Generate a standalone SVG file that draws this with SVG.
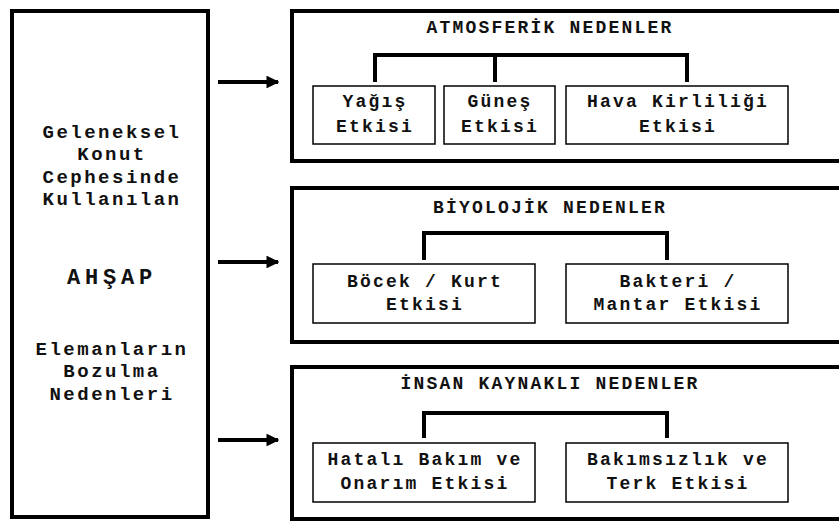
<svg xmlns="http://www.w3.org/2000/svg" width="839" height="521" viewBox="0 0 839 521">
<defs>
<style>
text{font-family:"Liberation Mono","DejaVu Sans Mono",monospace;font-weight:bold;fill:#111;text-anchor:middle}
.t{font-size:18px;letter-spacing:2.2px}
.l{font-size:19px;letter-spacing:2.5px}
.big{font-size:22px;letter-spacing:4.8px}
.outer{fill:#fff;stroke:#000;stroke-width:4}
.sub{fill:#fff;stroke:#000;stroke-width:1.5}
.br{fill:none;stroke:#000;stroke-width:4}
.ar{stroke:#000;stroke-width:4}
</style>
<marker id="ah" viewBox="0 0 10 10" refX="9" refY="5" markerWidth="3.2" markerHeight="3.2" orient="auto" markerUnits="strokeWidth">
<path d="M0,0 L10,5 L0,10 z" fill="#000"/>
</marker>
</defs>
<rect width="839" height="521" fill="#fff"/>
<g id="main">
<rect class="outer" x="12" y="11" width="196" height="506"/>
<text class="l" x="112" y="138">Geleneksel</text>
<text class="l" x="112" y="160">Konut</text>
<text class="l" x="112" y="183">Cephesinde</text>
<text class="l" x="112" y="205">Kullanılan</text>
<text class="big" x="112" y="284">AHŞAP</text>
<text class="l" x="112" y="355">Elemanların</text>
<text class="l" x="112" y="377">Bozulma</text>
<text class="l" x="112" y="400">Nedenleri</text>
</g>
<g id="atmosferik">
<rect class="outer" x="292" y="11" width="560" height="150"/>
<text class="t" x="550" y="33">ATMOSFERİK NEDENLER</text>
</g>
<g id="yagis">
<rect class="sub" x="313" y="86" width="122" height="58"/>
<text class="t" x="375" y="107">Yağış</text>
<text class="t" x="375" y="132">Etkisi</text>
</g>
<g id="gunes">
<rect class="sub" x="444" y="86" width="111" height="58"/>
<text class="t" x="500" y="107">Güneş</text>
<text class="t" x="500" y="132">Etkisi</text>
</g>
<g id="hava">
<rect class="sub" x="566" y="86" width="222" height="58"/>
<text class="t" x="678" y="107">Hava Kirliliği</text>
<text class="t" x="678" y="132">Etkisi</text>
</g>
<g id="biyolojik">
<rect class="outer" x="292" y="188" width="560" height="154"/>
<text class="t" x="550" y="213">BİYOLOJİK NEDENLER</text>
</g>
<g id="bocek">
<rect class="sub" x="313" y="264" width="222" height="59"/>
<text class="t" x="425" y="287">Böcek / Kurt</text>
<text class="t" x="425" y="310">Etkisi</text>
</g>
<g id="bakteri">
<rect class="sub" x="566" y="264" width="222" height="59"/>
<text class="t" x="678" y="287">Bakteri /</text>
<text class="t" x="678" y="310">Mantar Etkisi</text>
</g>
<g id="insan">
<rect class="outer" x="292" y="367" width="560" height="152"/>
<text class="t" x="550" y="389">İNSAN KAYNAKLI NEDENLER</text>
</g>
<g id="hatali">
<rect class="sub" x="313" y="443" width="222" height="59"/>
<text class="t" x="425" y="465">Hatalı Bakım ve</text>
<text class="t" x="425" y="489">Onarım Etkisi</text>
</g>
<g id="bakimsizlik">
<rect class="sub" x="566" y="443" width="222" height="59"/>
<text class="t" x="678" y="465">Bakımsızlık ve</text>
<text class="t" x="678" y="489">Terk Etkisi</text>
</g>
<g id="connectors">
<line class="ar" x1="218" y1="82" x2="278" y2="82" marker-end="url(#ah)"/>
<line class="ar" x1="218" y1="262" x2="278" y2="262" marker-end="url(#ah)"/>
<line class="ar" x1="218" y1="440" x2="278" y2="440" marker-end="url(#ah)"/>
<path class="br" d="M375,82 V55 H687 V82 M495,55 V82"/>
<path class="br" d="M424,260 V233 H667 V260"/>
<path class="br" d="M424,438 V413 H667 V438"/>
</g>
</svg>
